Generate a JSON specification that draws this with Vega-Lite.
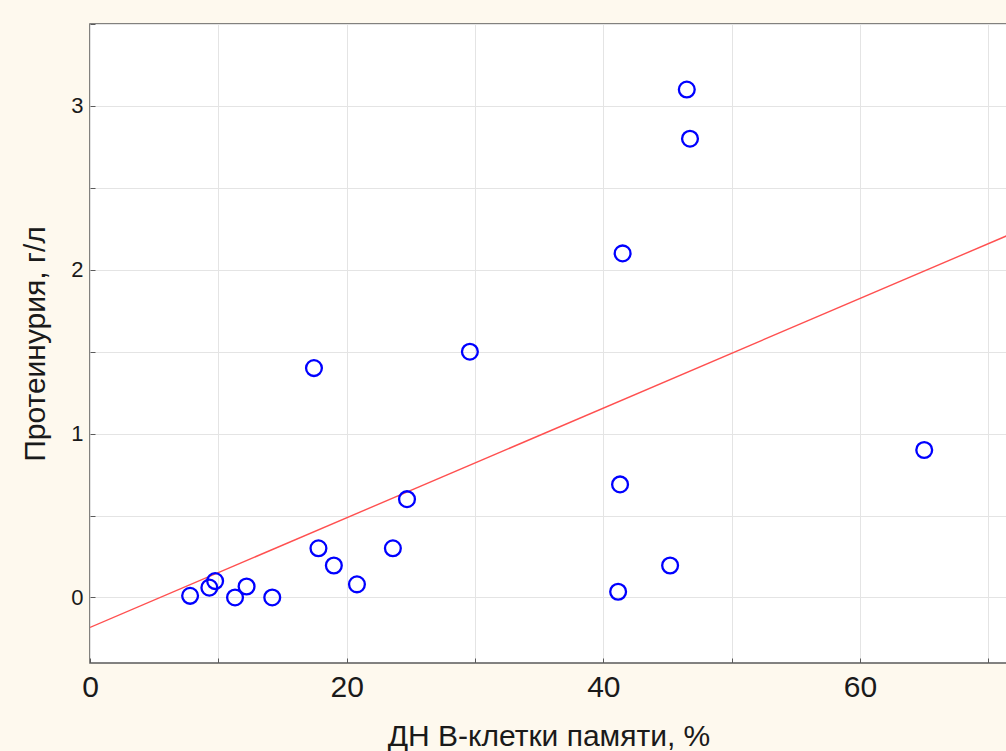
{
  "$schema": "https://vega.github.io/schema/vega-lite/v6.json",
  "autosize": {"type": "none"},
  "width": 917,
  "height": 639,
  "padding": {"left": 90, "top": 24, "right": 0, "bottom": 88},
  "background": "#FEF9EE",
  "config": {
    "font": "Liberation Sans",
    "view": {"fill": "white", "stroke": "#5a5a5a", "strokeWidth": 1.5},
    "axis": {
      "gridColor": "#E4E4E4",
      "gridWidth": 1,
      "domain": false,
      "tickColor": "#5a5a5a",
      "labelColor": "#1a1a1a",
      "titleColor": "#1a1a1a",
      "titleFontWeight": "normal",
      "labelFlush": false
    }
  },
  "datasets": {
    "points": [
      {"dn": 7.8, "prot": 0.01},
      {"dn": 9.3, "prot": 0.06},
      {"dn": 9.75, "prot": 0.1},
      {"dn": 11.3, "prot": 0.0},
      {"dn": 12.2, "prot": 0.067},
      {"dn": 14.2, "prot": 0.0},
      {"dn": 17.45, "prot": 1.4},
      {"dn": 17.8, "prot": 0.3},
      {"dn": 19.0, "prot": 0.195},
      {"dn": 20.8, "prot": 0.08},
      {"dn": 23.6, "prot": 0.3},
      {"dn": 24.7, "prot": 0.6},
      {"dn": 29.6, "prot": 1.5},
      {"dn": 41.15, "prot": 0.035},
      {"dn": 41.3, "prot": 0.69},
      {"dn": 41.5, "prot": 2.1},
      {"dn": 45.2, "prot": 0.195},
      {"dn": 46.5, "prot": 3.1},
      {"dn": 46.75, "prot": 2.8},
      {"dn": 65.0, "prot": 0.9}
    ],
    "fit": [
      {"dn": 0, "prot": -0.183},
      {"dn": 71.45, "prot": 2.208}
    ]
  },
  "layer": [
    {
      "data": {"name": "fit"},
      "mark": {"type": "line", "color": "#FF5050", "strokeWidth": 1.4, "clip": true},
      "encoding": {
        "x": {
          "field": "dn", "type": "quantitative",
          "scale": {"domain": [0, 71.45], "nice": false, "zero": false},
          "axis": {
            "title": "ДН В-клетки памяти, %",
            "titleFontSize": 30,
            "titlePadding": 19,
            "values": [0, 10, 20, 30, 40, 50, 60, 70],
            "labelExpr": "datum.value % 20 == 0 ? format(datum.value, 'd') : ''",
            "labelFontSize": 30,
            "labelPadding": 14,
            "tickSize": -5,
            "grid": true
          }
        },
        "y": {
          "field": "prot", "type": "quantitative",
          "scale": {"domain": [-0.4, 3.5], "nice": false, "zero": false},
          "axis": {
            "title": "Протеинурия, г/л",
            "titleFontSize": 30,
            "titlePadding": 20,
            "values": [0, 0.5, 1, 1.5, 2, 2.5, 3, 3.5],
            "labelExpr": "datum.value % 1 == 0 ? format(datum.value, 'd') : ''",
            "labelFontSize": 22,
            "labelPadding": 12,
            "tickSize": -5,
            "grid": true
          }
        }
      }
    },
    {
      "data": {"name": "points"},
      "mark": {"type": "point", "shape": "circle", "filled": false, "color": "#0000FF", "strokeWidth": 2.3, "size": 250, "opacity": 1},
      "encoding": {
        "x": {"field": "dn", "type": "quantitative"},
        "y": {"field": "prot", "type": "quantitative"}
      }
    }
  ]
}
